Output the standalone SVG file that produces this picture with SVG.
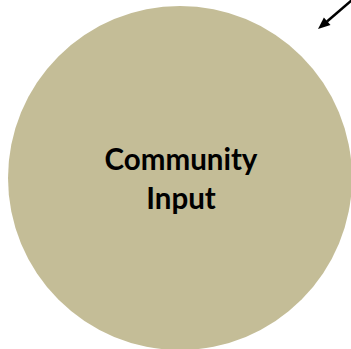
<svg xmlns="http://www.w3.org/2000/svg" width="351" height="349" viewBox="0 0 351 349">
<style>
.lbl{font-family:Lato,"Open Sans","Liberation Sans",sans-serif;font-weight:bold;font-size:29.5px;fill:#000;text-anchor:middle}
</style>
<rect width="351" height="349" fill="#fff"/>
<g id="community-input">
<circle cx="180" cy="178" r="172" fill="#C4BD97"/>
<text class="lbl" x="181" y="170">Community</text>
<text class="lbl" x="181" y="209">Input</text>
</g>
<g id="connectors">
<line x1="352" y1="0" x2="327" y2="21.5" stroke="#000" stroke-width="2.5"/>
<polygon points="318,29 330.5,25 323.9,17.4" fill="#000"/>
</g>
</svg>
